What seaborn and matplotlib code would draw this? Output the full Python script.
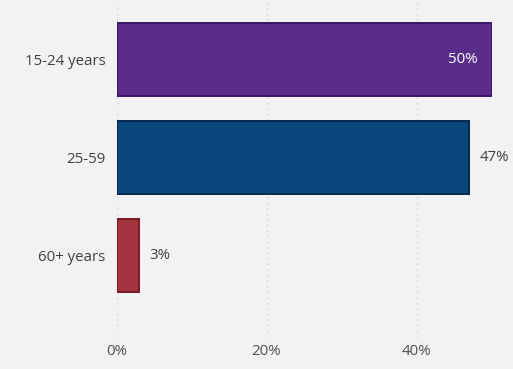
import matplotlib
matplotlib.use("Agg")
import matplotlib.pyplot as plt
import seaborn as sns
import pandas as pd
from matplotlib.ticker import FuncFormatter

# Age groups and their share (%)
age_groups = ["15-24 years", "25-59", "60+ years"]
shares = [50, 47, 3]
bar_colors = ["#5a2d8a", "#0a477d", "#a3333d"]
edge_colors = ["#3a1766", "#05284f", "#7a1822"]
x_ticks = [0, 20, 40]

df = pd.DataFrame({"group": age_groups, "share": shares})

sns.set_theme(style="white")
plt.rcParams["font.family"] = ["Open Sans", "DejaVu Sans"]

bg = "#f2f2f2"
fig = plt.figure(figsize=(5.13, 3.69), dpi=100, facecolor=bg)
ax = fig.add_axes([116.5 / 513, 1 - 337 / 369, 375 / 513, 337 / 369])
ax.set_facecolor(bg)

sns.barplot(data=df, x="share", y="group", hue="group", palette=bar_colors,
            width=0.745, legend=False, ax=ax, saturation=1)

for patch, ec in zip(ax.patches, edge_colors):
    patch.set_edgecolor(ec)
    patch.set_linewidth(1.4)

ax.set_xlim(0, 50)
ax.set_ylim(2.832, -0.607)

ax.set_xticks(x_ticks)
ax.xaxis.set_major_formatter(FuncFormatter(lambda v, p: f"{v:.0f}%"))
ax.grid(axis="x", linestyle=(0, (1, 3)), color="#d2d2d2", linewidth=1)
ax.set_axisbelow(True)
ax.grid(axis="y", visible=False)

for s in ax.spines.values():
    s.set_visible(False)

ax.set_xlabel("")
ax.set_ylabel("")
ax.tick_params(axis="x", length=0, pad=5, labelsize=10.8, labelcolor="#505050")
ax.tick_params(axis="y", length=0, pad=8, labelsize=10.8, labelcolor="#404040")

# Value labels: inside the bar when there is no room outside
for i, v in enumerate(shares):
    if v >= 49:
        ax.text(v - 1.9, i, f"{v}%", ha="right", va="center",
                color="white", fontsize=10.8)
    else:
        ax.text(v + 1.4, i, f"{v}%", ha="left", va="center",
                color="#404040", fontsize=10.8, clip_on=False)

fig.savefig("out.png", dpi=100, facecolor=bg)
